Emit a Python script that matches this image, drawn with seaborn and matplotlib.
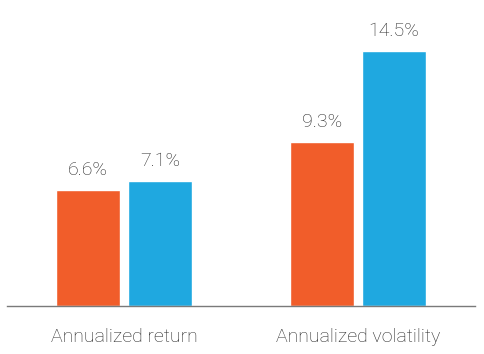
import matplotlib
matplotlib.use("Agg")
import matplotlib.pyplot as plt
import pandas as pd
import seaborn as sns

categories = ["Annualized return", "Annualized volatility"]
series_names = ["Series A", "Series B"]
series_a = [6.6, 9.3]
series_b = [7.1, 14.5]

ORANGE = "#F15D2A"
BLUE = "#1FA8E0"
TEXT = "#262626"


def build_frame() -> pd.DataFrame:
    rows = []
    for name, values in zip(series_names, (series_a, series_b)):
        for cat, val in zip(categories, values):
            rows.append({"metric": cat, "series": name, "value": val})
    return pd.DataFrame(rows)


def main() -> None:
    sns.set_theme(style="white")
    plt.rcParams["font.family"] = ["Roboto", "DejaVu Sans"]
    plt.rcParams["font.weight"] = "light"

    df = build_frame()
    fig = plt.figure(figsize=(4.84, 3.54), dpi=100)
    ax = fig.add_axes([7 / 484, 48 / 354, 468 / 484, 1 - 48 / 354 - 20 / 354])

    sns.barplot(
        data=df, x="metric", y="value", hue="series",
        palette=[ORANGE, BLUE], width=0.615, gap=0.11,
        saturation=1, legend=False, ax=ax,
    )

    for container in ax.containers:
        ax.bar_label(container, fmt="%.1f%%", padding=8,
                     fontsize=14, color=TEXT, fontweight="light")

    ax.set_xlim(-0.5, 1.5)
    ax.set_ylim(0, 16.25)
    ax.set_xlabel("")
    ax.set_ylabel("")
    ax.set_yticks([])
    ax.tick_params(axis="x", length=0, pad=16, labelsize=14, labelcolor=TEXT)
    for lbl in ax.get_xticklabels():
        lbl.set_fontweight("light")
    for side in ("top", "left", "right"):
        ax.spines[side].set_visible(False)
    ax.spines["bottom"].set_color("#7a7a7a")
    ax.spines["bottom"].set_linewidth(1.0)

    fig.savefig("out.png", dpi=100, facecolor="white")


if __name__ == "__main__":
    main()
